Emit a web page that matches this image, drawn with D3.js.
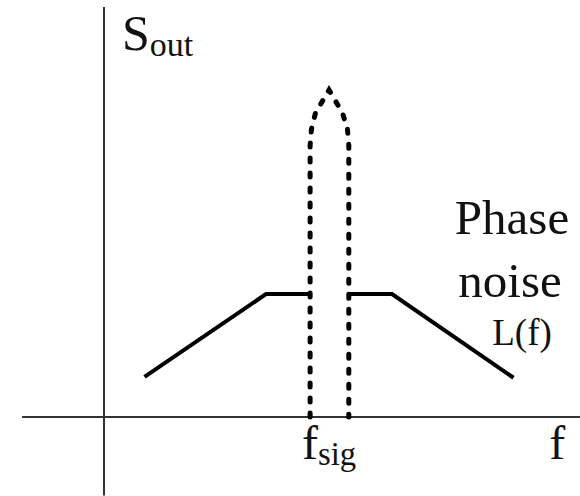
<!DOCTYPE html>
<html>
<head>
<meta charset="utf-8">
<script src="https://cdn.jsdelivr.net/npm/d3@7/dist/d3.min.js"></script>
<style>
  html, body { margin: 0; padding: 0; background: #fff; }
  #wrap { position: relative; width: 580px; height: 496px; }
  svg { display: block; position: absolute; left: 0; top: 0; }
  .lab { position: absolute; white-space: nowrap; line-height: 1; color: #111;
         font-family: Tinos, "Times New Roman", "Liberation Serif", serif; }
  .lab sub { font-size: 0.68em; vertical-align: baseline; position: relative; top: 0.17em; }
</style>
</head>
<body>
<div id="wrap"><svg id="chart" width="580" height="496"></svg></div>
<script>
// ---- data ----
const fSig = 50;
// phase-noise skirt (left and right branches): frequency, level
const noiseLeftF  = [9, 36, 45.8];
const noiseLeftS  = [12.3, 37.6, 37.6];
const noiseRightF = [54.4, 64, 91];
const noiseRightS = [37.6, 37.6, 12];
// signal line (dashed)
const peakF = [45.8, 45.8, 46.1, 47.0, 50, 53.0, 54.1, 54.4, 54.4];
const peakS = [0, 83, 88, 93, 100, 93, 88, 83, 0];
// axis extents
const xExtent = [-18.2, 105.8];
const yExtent = [-24, 125.4];

// ---- scales ----
const x = d3.scaleLinear().domain([0, 100]).range([104, 554]);
const y = d3.scaleLinear().domain([0, 100]).range([417, 90]);

const svg = d3.select("#chart");

// axes
svg.append("line")
  .attr("x1", x(xExtent[0])).attr("x2", x(xExtent[1]))
  .attr("y1", y(0)).attr("y2", y(0))
  .attr("stroke", "#333").attr("stroke-width", 2);
svg.append("line")
  .attr("x1", x(0)).attr("x2", x(0))
  .attr("y1", y(yExtent[1])).attr("y2", y(yExtent[0]))
  .attr("stroke", "#333").attr("stroke-width", 2);

const line = d3.line().x(d => x(d[0])).y(d => y(d[1]));

// noise skirt
[[noiseLeftF, noiseLeftS], [noiseRightF, noiseRightS]].forEach(([fs, ss]) => {
  svg.append("path")
    .attr("d", line(fs.map((f, i) => [f, ss[i]])))
    .attr("fill", "none").attr("stroke", "#000")
    .attr("stroke-width", 4).attr("stroke-linejoin", "miter");
});

// signal
svg.append("path")
  .attr("d", line(peakF.map((f, i) => [f, peakS[i]])))
  .attr("fill", "none").attr("stroke", "#000")
  .attr("stroke-width", 5).attr("stroke-linecap", "round")
  .attr("stroke-dasharray", "4 11");

// labels as HTML, positioned by baseline (approx 0.891em ascent for Times metrics)
const wrap = d3.select("#wrap");
function label(html, size, baseline, left, centreX) {
  const d = wrap.append("div").attr("class", "lab")
    .style("font-size", size + "px").html(html);
  d.style("top", (baseline - 0.891 * size) + "px");
  if (centreX != null) {
    const w = d.node().getBoundingClientRect().width;
    d.style("left", (centreX - w / 2) + "px");
  } else {
    d.style("left", left + "px");
  }
  return d;
}
label("S<sub>out</sub>", 50, 53, 122);
label("f<sub>sig</sub>", 48, 462, 0, x(fSig));
label("f", 48, 462, 0, x(100.7));
label("Phase", 49, 237, 0, 512);
label("noise", 49, 300, 0, 510);
label("L(f)", 37, 347, 0, 522);
</script>
</body>
</html>
